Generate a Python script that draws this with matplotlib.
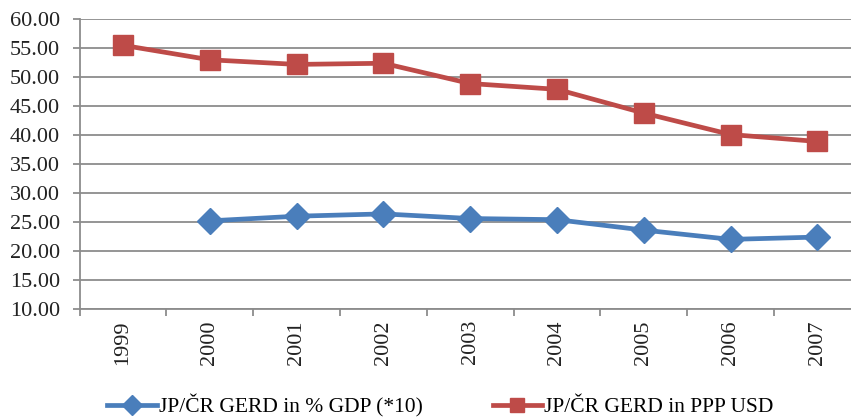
import matplotlib.pyplot as plt
import numpy as np

plt.rcParams['font.family'] = ['Liberation Serif', 'DejaVu Serif']

years = ['1999', '2000', '2001', '2002', '2003', '2004', '2005', '2006', '2007']
gerd_gdp = [np.nan, 25.2, 26.0, 26.4, 25.6, 25.4, 23.6, 22.0, 22.4]
gerd_ppp = [55.5, 53.0, 52.2, 52.4, 48.9, 47.9, 43.8, 40.1, 38.9]

blue = '#4a7ebb'
red = '#be4b48'
grid = '#8c8c8c'

fig = plt.figure(figsize=(8.51, 4.18), dpi=100)
ax = fig.add_axes([0.0935, 0.261, 0.918, 0.693])

x = np.arange(len(years))
ax.plot(x, gerd_gdp, color=blue, lw=3.4, marker='D', markersize=13,
        label='JP/ČR GERD in % GDP (*10)', zorder=3, clip_on=False)
ax.plot(x, gerd_ppp, color=red, lw=3.4, marker='s', markersize=14,
        label='JP/ČR GERD in PPP USD', zorder=3, clip_on=False)

ax.set_xlim(-0.5, len(years) - 0.5)
ax.set_ylim(10, 60)
ax.set_yticks(np.arange(10, 61, 5))
ax.set_yticklabels(['%.2f' % v for v in np.arange(10, 61, 5)])
ax.yaxis.grid(True, color=grid, lw=1.3)
ax.set_axisbelow(True)

# labels sit between the category tick marks
ax.set_xticks(x)
ax.set_xticklabels(years, rotation=90)
ax.set_xticks(np.arange(-0.5, len(years)), minor=True)
ax.tick_params(axis='x', which='major', length=0, pad=8)
ax.tick_params(axis='x', which='minor', length=5, color=grid, width=1.3)
ax.tick_params(axis='y', length=5, color=grid, width=1.3, pad=9)
ax.tick_params(labelsize=16, labelcolor='#222222')

for side in ['top', 'right']:
    ax.spines[side].set_visible(False)
for side in ['left', 'bottom']:
    ax.spines[side].set_color(grid)
    ax.spines[side].set_linewidth(1.3)

fig.legend(loc='lower left', bbox_to_anchor=(0.103, -0.045), ncol=2, frameon=False,
           fontsize=15.5, handlelength=2.3, handletextpad=0.1, columnspacing=3.25,
           markerscale=0.75)

fig.savefig('out.png', dpi=100)
